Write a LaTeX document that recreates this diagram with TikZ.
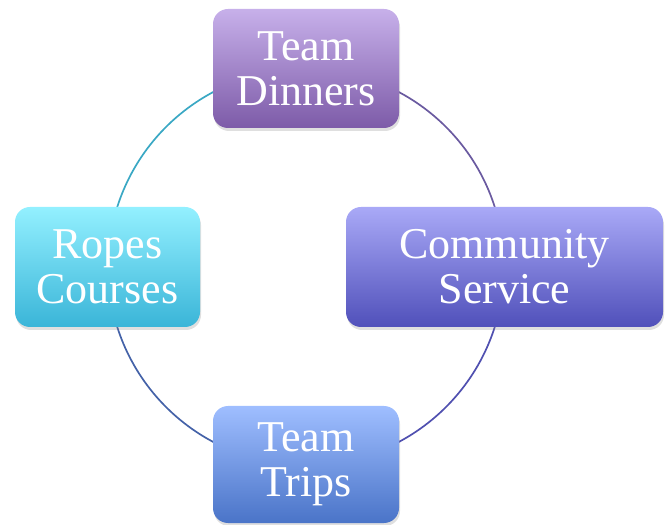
\documentclass[tikz,border=0pt]{standalone}
\usepackage{fontspec}
\setmainfont{Liberation Serif}
\usetikzlibrary{shadows}
\definecolor{dinT}{HTML}{C7B0EA}
\definecolor{dinB}{HTML}{7D5BA8}
\definecolor{comT}{HTML}{A9A9F7}
\definecolor{comB}{HTML}{5050BA}
\definecolor{ropT}{HTML}{93F0FF}
\definecolor{ropB}{HTML}{3AB5D8}
\definecolor{triT}{HTML}{9FBEFF}
\definecolor{triB}{HTML}{4A74C8}
\definecolor{arcTL}{HTML}{3AA8C4}
\definecolor{arcTR}{HTML}{6A5AA0}
\definecolor{arcBR}{HTML}{5050B0}
\definecolor{arcBL}{HTML}{4462A8}
\tikzset{
  cyclebox/.style={rounded corners=15pt, inner sep=0pt, align=center,
    text=white, font=\fontsize{44}{45}\selectfont,
    drop shadow={shadow xshift=1pt, shadow yshift=-3pt, opacity=0.25}},
  ringarc/.style={line width=1.7pt}
}
\begin{document}
\begin{tikzpicture}[x=1pt,y=1pt]
\useasboundingbox (0,0) rectangle (668,524);
\coordinate (c) at (306,257);
\draw[ringarc, arcTL] ([shift={(90:198)}]c) arc[start angle=90, end angle=180, radius=198];
\draw[ringarc, arcTR] ([shift={(90:198)}]c) arc[start angle=90, end angle=0, radius=198];
\draw[ringarc, arcBR] ([shift={(0:198)}]c) arc[start angle=0, end angle=-90, radius=198];
\draw[ringarc, arcBL] ([shift={(180:198)}]c) arc[start angle=180, end angle=270, radius=198];
\node[cyclebox, top color=dinT, bottom color=dinB, minimum width=186pt, minimum height=119pt] (din) at (306,455.5) {Team\\Dinners};
\node[cyclebox, top color=comT, bottom color=comB, minimum width=317pt, minimum height=120pt] (com) at (504.5,257) {Community\\Service};
\node[cyclebox, top color=ropT, bottom color=ropB, minimum width=185pt, minimum height=120pt] (rop) at (107.5,257) {Ropes\\Courses};
\node[cyclebox, top color=triT, bottom color=triB, minimum width=186pt, minimum height=117pt] (tri) at (306,59.5) {Team\\Trips};
\end{tikzpicture}
\end{document}
